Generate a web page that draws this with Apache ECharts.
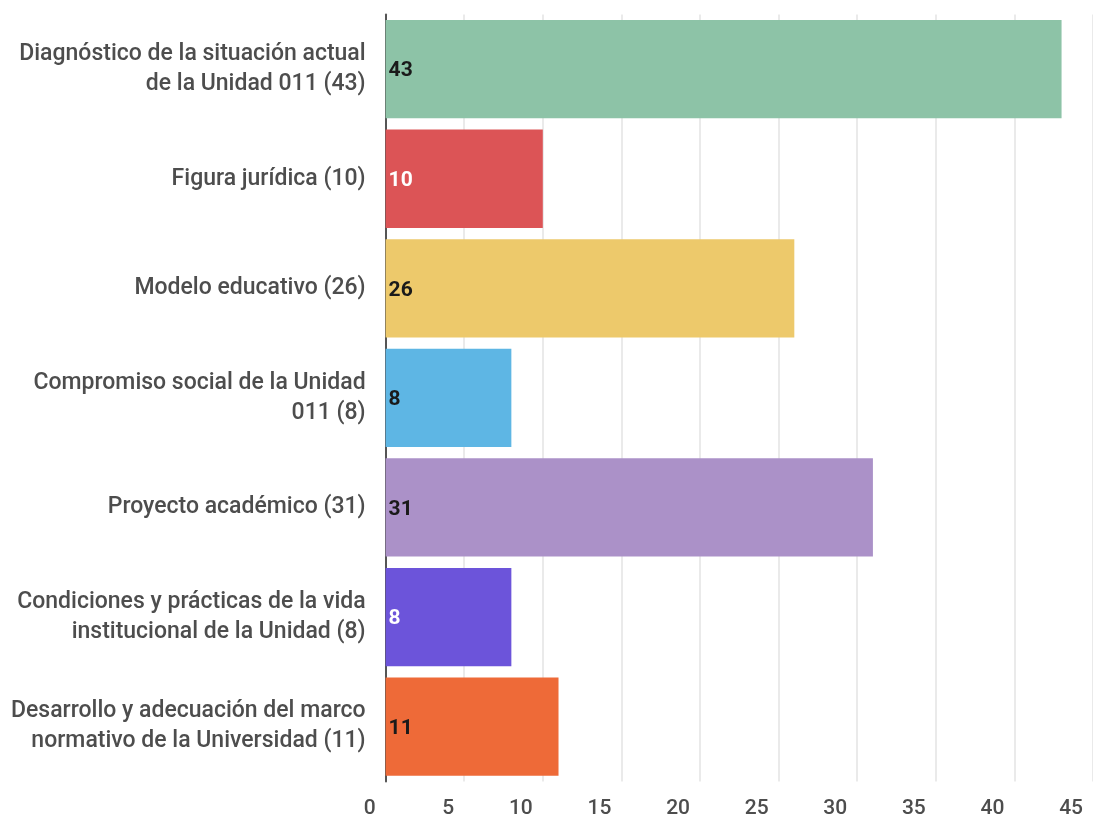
<!DOCTYPE html>
<html>
<head>
<meta charset="utf-8">
<script src="https://cdn.jsdelivr.net/npm/echarts@6/dist/echarts.min.js"></script>
<style>
  html, body { margin: 0; padding: 0; background: #fff; }
  #chart { width: 1093px; height: 823px; }
</style>
</head>
<body>
<div id="chart"></div>
<script>
const categories = [
  "Diagnóstico de la situación actual\nde la Unidad 011 (43)",
  "Figura jurídica (10)",
  "Modelo educativo (26)",
  "Compromiso social de la Unidad\n011 (8)",
  "Proyecto académico (31)",
  "Condiciones y prácticas de la vida\ninstitucional de la Unidad (8)",
  "Desarrollo y adecuación del marco\nnormativo de la Universidad (11)",
];
const values = [43, 10, 26, 8, 31, 8, 11];
const barColors = ["#8DC3A7", "#DC5456", "#EDC96B", "#5EB6E4", "#AB91C8", "#6C54DA", "#EE6A38"];
const labelColors = ["#1a1a1a", "#ffffff", "#1a1a1a", "#1a1a1a", "#1a1a1a", "#ffffff", "#1a1a1a"];

const chart = echarts.init(document.getElementById("chart"));

chart.setOption({
  animation: false,
  textStyle: { fontFamily: "Roboto" },
  grid: {
    left: 385.6,
    top: 14.4,
    width: 708,
    height: 767,
    containLabel: false,
  },
  xAxis: {
    type: "value",
    min: 0,
    max: 45,
    interval: 5,
    axisLine: { show: false },
    axisTick: { show: false },
    splitLine: { lineStyle: { color: "#e3e3e3", width: 1.5 } },
    axisLabel: {
      color: "#4d4d4d",
      fontSize: 21,
      fontWeight: 500,
      align: "right",
      padding: [0, 10, 0, 0],
      margin: 17,
    },
  },
  yAxis: {
    type: "category",
    inverse: true,
    data: categories,
    axisTick: { show: false },
    axisLine: { lineStyle: { color: "#555", width: 2 } },
    axisLabel: {
      color: "#4d4d4d",
      fontSize: 23,
      fontWeight: 500,
      lineHeight: 30,
      margin: 20,
      align: "right",
      padding: [4, 0, 0, 0],
    },
  },
  series: [
    {
      type: "bar",
      barCategoryGap: "10.3%",
      data: values.map((v, i) => ({
        value: v,
        itemStyle: { color: barColors[i] },
        label: { color: labelColors[i] },
      })),
      label: {
        show: true,
        position: "insideLeft",
        distance: 3,
        offset: [0, 2],
        fontSize: 21,
        fontWeight: "bold",
      },
    },
  ],
});
</script>
</body>
</html>
